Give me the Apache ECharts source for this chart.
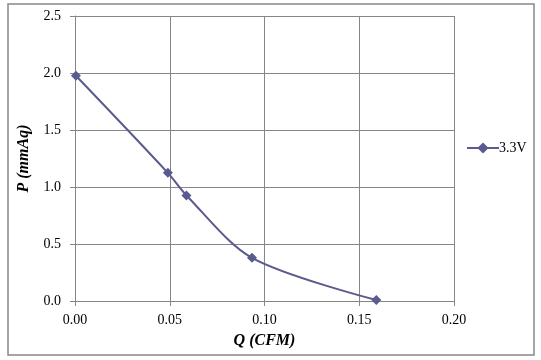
<!DOCTYPE html>
<html>
<head>
<meta charset="utf-8">
<script src="https://cdn.jsdelivr.net/npm/echarts@6/dist/echarts.min.js"></script>
<style>
  html, body { margin: 0; padding: 0; background: #fff; }
  #chart { width: 541px; height: 360px; }
</style>
</head>
<body>
<div id="chart"></div>
<script>
// flow Q (CFM) vs pressure P (mmAq)
const qValues = [0.0005, 0.049, 0.0588, 0.0934, 0.159];
const pValues = [1.976, 1.124, 0.926, 0.379, 0.009];
const seriesName = '3.3V';
const xTicks = { min: 0, max: 0.2, step: 0.05 };
const yTicks = { min: 0, max: 2.5, step: 0.5 };

const lineColor = '#5A5A8E';
const gridColor = '#868686';
const serif = '"Liberation Serif", "DejaVu Serif", serif';

const chart = echarts.init(document.getElementById('chart'));
chart.setOption({
  animation: false,
  backgroundColor: '#fff',
  grid: { left: 75, right: 87, top: 16, bottom: 59 },
  graphic: [{
    type: 'rect',
    shape: { x: 8, y: 4, width: 526, height: 351 },
    style: { fill: 'none', stroke: '#888', lineWidth: 1.5 },
    silent: true
  }],
  legend: {
    left: 466,
    top: 141,
    padding: 0,
    itemWidth: 32,
    itemHeight: 14,
    data: [seriesName],
    textStyle: { fontFamily: serif, fontSize: 14, color: '#000', padding: [0, 0, 0, -5] }
  },
  xAxis: {
    type: 'value',
    min: xTicks.min,
    max: xTicks.max,
    interval: xTicks.step,
    name: 'Q (CFM)',
    nameLocation: 'middle',
    nameGap: 32,
    nameTextStyle: { fontFamily: serif, fontSize: 16, fontWeight: 'bold', fontStyle: 'italic', color: '#000' },
    axisLine: { show: true, lineStyle: { color: gridColor, width: 1 } },
    axisTick: { show: true, length: 5, lineStyle: { color: gridColor } },
    axisLabel: { fontFamily: serif, fontSize: 14, color: '#000', margin: 12, formatter: v => v.toFixed(2) },
    splitLine: { show: true, lineStyle: { color: gridColor, width: 1 } }
  },
  yAxis: {
    type: 'value',
    min: yTicks.min,
    max: yTicks.max,
    interval: yTicks.step,
    name: 'P (mmAq)',
    nameLocation: 'middle',
    nameGap: 43,
    nameTextStyle: { fontFamily: serif, fontSize: 16, fontWeight: 'bold', fontStyle: 'italic', color: '#000' },
    axisLine: { show: true, lineStyle: { color: gridColor, width: 1 } },
    axisTick: { show: true, length: 5, lineStyle: { color: gridColor } },
    axisLabel: { fontFamily: serif, fontSize: 14, color: '#000', margin: 14, formatter: v => v.toFixed(1) },
    splitLine: { show: true, lineStyle: { color: gridColor, width: 1 } }
  },
  series: [{
    name: seriesName,
    type: 'line',
    data: qValues.map((q, i) => [q, pValues[i]]),
    smooth: 0.3,
    symbol: 'diamond',
    symbolSize: 10,
    itemStyle: { color: lineColor },
    lineStyle: { color: lineColor, width: 2 }
  }]
});
</script>
</body>
</html>
